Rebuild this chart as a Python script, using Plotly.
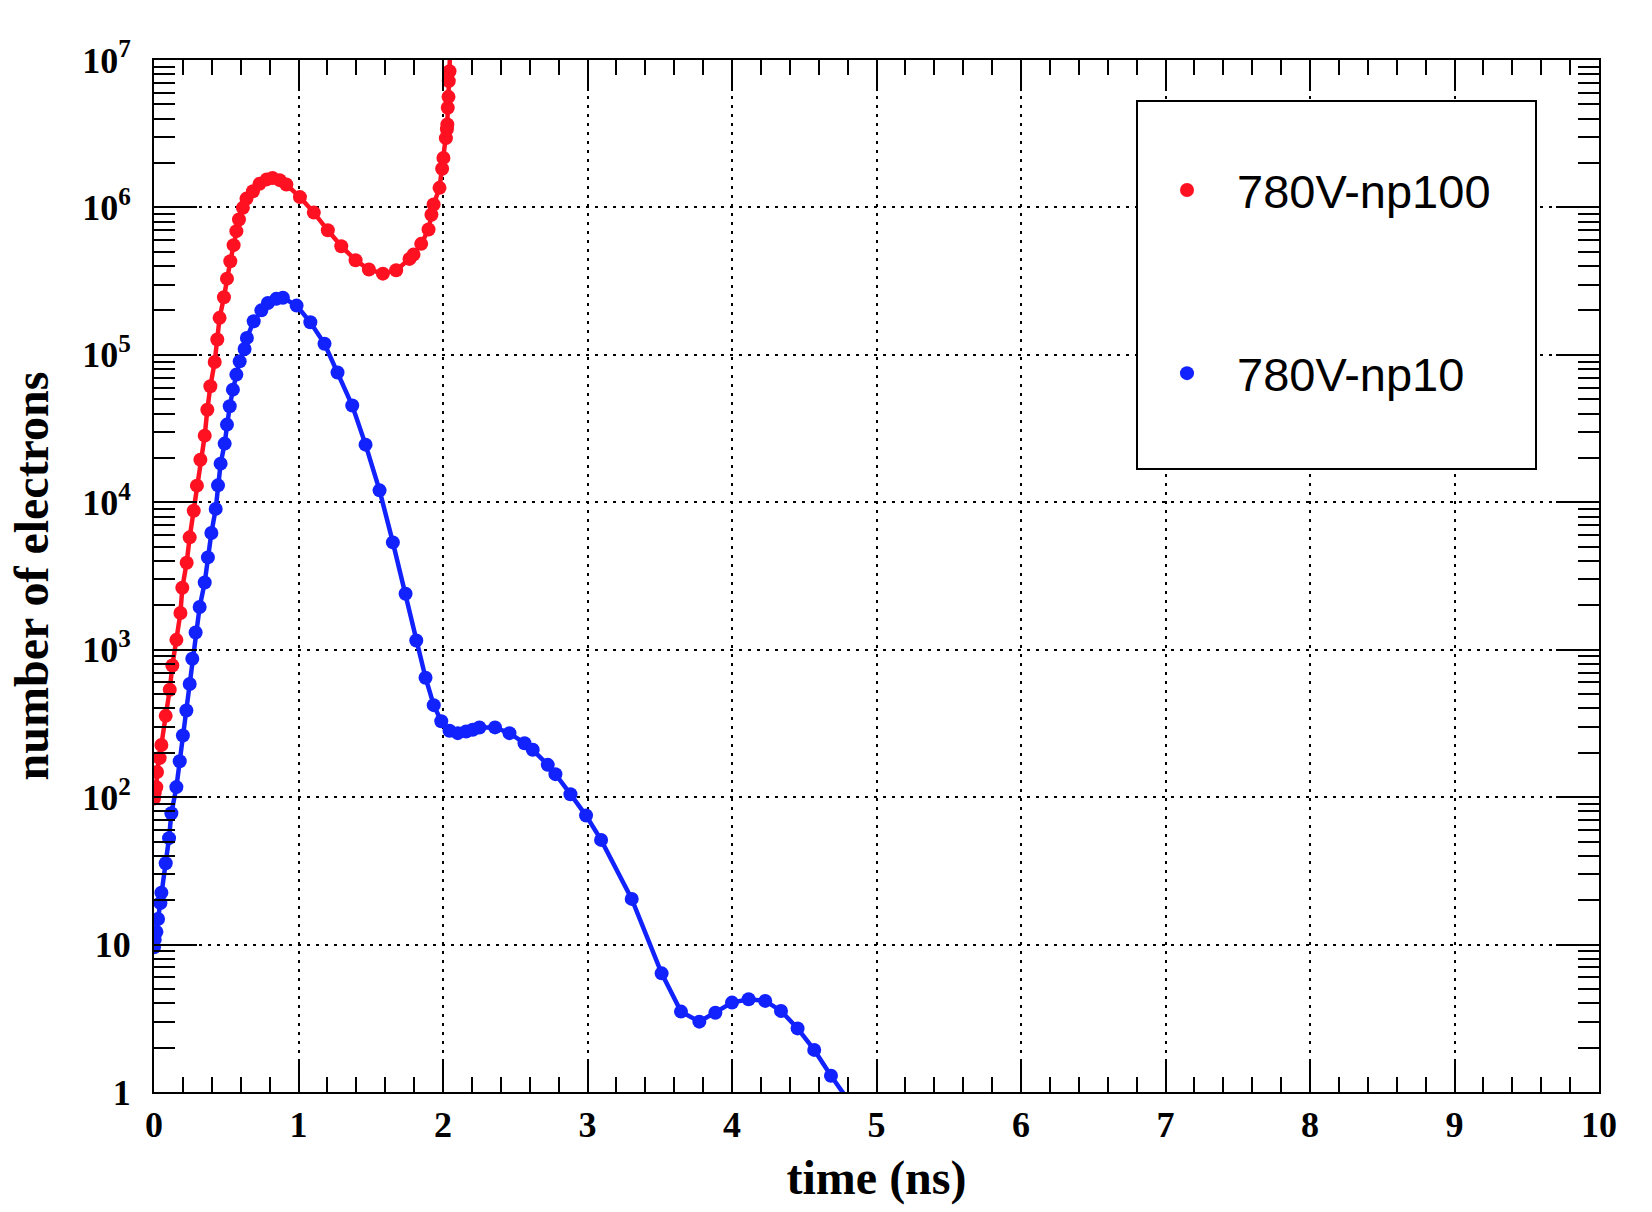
import plotly.graph_objects as go

# ---------------- data ----------------
time_np100 = [0.0, 0.005, 0.016, 0.021, 0.039, 0.051, 0.081, 0.109, 0.127, 0.155,
              0.183, 0.196, 0.226, 0.247, 0.275, 0.297, 0.321, 0.351, 0.369, 0.39,
              0.42, 0.438, 0.454, 0.484, 0.505, 0.528, 0.551, 0.57, 0.588, 0.615,
              0.64, 0.685, 0.73, 0.78, 0.82, 0.87, 0.916, 1.01, 1.106, 1.203,
              1.296, 1.395, 1.487, 1.584, 1.676, 1.768, 1.796, 1.849, 1.9, 1.92,
              1.935, 1.976, 1.994, 2.003, 2.02, 2.027, 2.03, 2.033, 2.038, 2.04,
              2.045, 2.048]
electrons_np100 = [98, 107, 117, 148, 184, 226, 356, 535, 782, 1167,
                   1774, 2630, 3890, 5781, 8770, 12970, 19450, 28310, 42460, 61240,
                   89540, 127060, 178240, 246040, 328850, 431520, 554630, 690240, 827920, 993110,
                   1.148e6, 1.288e6, 1.445e6, 1.549e6, 1.585e6, 1.531e6, 1.429e6, 1.175e6, 922570, 699800,
                   545800, 438500, 379300, 355600, 375000, 447700, 478600, 566200, 707900, 891000,
                   1.047e6, 1.358e6, 1.828e6, 2.168e6, 2.951e6, 3.388e6, 3.656e6, 4.742e6, 5.623e6, 7.194e6,
                   8.395e6, 1.122e7]

time_np10 = [0.0, 0.005, 0.017, 0.028, 0.044, 0.051, 0.081, 0.104, 0.12, 0.155,
             0.178, 0.2, 0.224, 0.247, 0.265, 0.288, 0.316, 0.351, 0.373, 0.397,
             0.427, 0.443, 0.461, 0.489, 0.505, 0.524, 0.546, 0.57, 0.593, 0.627,
             0.643, 0.69, 0.743, 0.788, 0.846, 0.892, 0.987, 1.082, 1.18, 1.27,
             1.372, 1.464, 1.561, 1.653, 1.741, 1.815, 1.879, 1.936, 1.988, 2.045,
             2.102, 2.16, 2.206, 2.252, 2.36, 2.46, 2.564, 2.621, 2.725, 2.778,
             2.882, 2.99, 3.094, 3.306, 3.513, 3.647, 3.774, 3.885, 4.0, 4.115,
             4.23, 4.339, 4.454, 4.569, 4.685, 4.85]
electrons_np10 = [9.6, 10.8, 12.2, 14.9, 19.1, 22.5, 35.6, 52.7, 77.8, 117,
                  175, 262, 387, 585, 869, 1309, 1950, 2858, 4227, 6194,
                  9016, 13030, 18280, 25000, 33650, 44770, 58080, 73450, 90360, 109650,
                  130320, 169040, 200450, 224910, 239880, 243780, 215780, 166340, 118850, 75860,
                  45290, 24600, 12050, 5346, 2399, 1156, 645.7, 420.7, 327.3, 281.8,
                  271.6, 278.6, 286.4, 296.5, 297.2, 271.6, 232.3, 209.4, 165.6, 143.2,
                  104.7, 75.0, 51.3, 20.4, 6.38, 3.51, 3.0, 3.45, 4.04, 4.26,
                  4.15, 3.55, 2.70, 1.93, 1.29, 0.76]

series_names = ["780V-np100", "780V-np10"]
series_colors = ["#ff1122", "#1122ff"]

x_tickvals = list(range(0, 11))
x_ticktext = [str(v) for v in x_tickvals]
y_tickvals = [1, 10, 100, 1e3, 1e4, 1e5, 1e6, 1e7]
y_ticktext = ["1", "10", "10<sup>2</sup>", "10<sup>3</sup>", "10<sup>4</sup>",
              "10<sup>5</sup>", "10<sup>6</sup>", "10<sup>7</sup>"]
y_minor_vals = [k * 10 ** d for d in range(0, 7) for k in range(2, 10)]

# ---------------- figure ----------------
SERIF = "Liberation Serif, Times New Roman, serif"
SANS = "Liberation Sans, Arial, Helvetica, sans-serif"

fig = go.Figure()

fig.add_trace(go.Scatter(x=time_np10, y=electrons_np10, mode="lines+markers",
                         line=dict(color=series_colors[1], width=4.5),
                         marker=dict(color=series_colors[1], size=14),
                         showlegend=False, cliponaxis=True))
fig.add_trace(go.Scatter(x=time_np100, y=electrons_np100, mode="lines+markers",
                         line=dict(color=series_colors[0], width=4.5),
                         marker=dict(color=series_colors[0], size=14),
                         showlegend=False, cliponaxis=True))

# legend entries (markers only, as in the reference)
for name, col in zip(series_names, series_colors):
    fig.add_trace(go.Scatter(x=[None], y=[None], mode="markers", name=name,
                             legendgroup=name,
                             marker=dict(color=col, size=14)))

L, R, T, B = 154, 53, 60, 120
W, H = 1652, 1212
pw, ph = W - L - R, H - T - B

def px2paper_x(px):
    return (px - L) / pw

def px2paper_y(py):
    return (H - B - py) / ph

axis_common = dict(
    showline=True, linecolor="black", linewidth=2, mirror="allticks",
    ticks="inside", tickcolor="black", tickwidth=2,
    showgrid=True, gridcolor="black", gridwidth=2, griddash="3px,6px",
    zeroline=False, automargin=False,
    tickfont=dict(family=SERIF, size=36, color="black", weight="bold"),
)

fig.update_xaxes(
    range=[0, 10], tickmode="array", tickvals=x_tickvals, ticktext=x_ticktext,
    ticklen=31,
    minor=dict(dtick=0.2, tick0=0, ticks="inside", ticklen=15, tickwidth=2,
               tickcolor="black", showgrid=False),
    title=dict(text="time (ns)", font=dict(family=SERIF, size=48, color="black", weight="bold"),
               standoff=16),
    ticklabelstandoff=0,
    **axis_common,
)
fig.update_yaxes(
    type="log", range=[0, 7], tickmode="array", tickvals=y_tickvals, ticktext=y_ticktext,
    ticklen=43,
    minor=dict(tickmode="array", tickvals=y_minor_vals, ticks="inside", ticklen=21,
               tickwidth=2, tickcolor="black", showgrid=False),
    title=dict(text="number of electrons", font=dict(family=SERIF, size=48, color="black", weight="bold"),
               standoff=18),
    ticklabelstandoff=14,
    **axis_common,
)

# legend frame
fig.add_shape(type="rect", xref="paper", yref="paper",
              x0=px2paper_x(1137), x1=px2paper_x(1536),
              y0=px2paper_y(469), y1=px2paper_y(101),
              line=dict(color="black", width=2), fillcolor="white", layer="above")

fig.update_layout(
    width=W, height=H,
    margin=dict(l=L, r=R, t=T, b=B, pad=0),
    paper_bgcolor="white", plot_bgcolor="white",
    showlegend=True,
    legend=dict(x=px2paper_x(1137), xanchor="left", y=px2paper_y(153), yanchor="top",
                bgcolor="rgba(0,0,0,0)", borderwidth=0,
                font=dict(family=SANS, size=47, color="black"),
                itemwidth=90, traceorder="grouped", tracegroupgap=119),
)

fig.write_html("out.html")
